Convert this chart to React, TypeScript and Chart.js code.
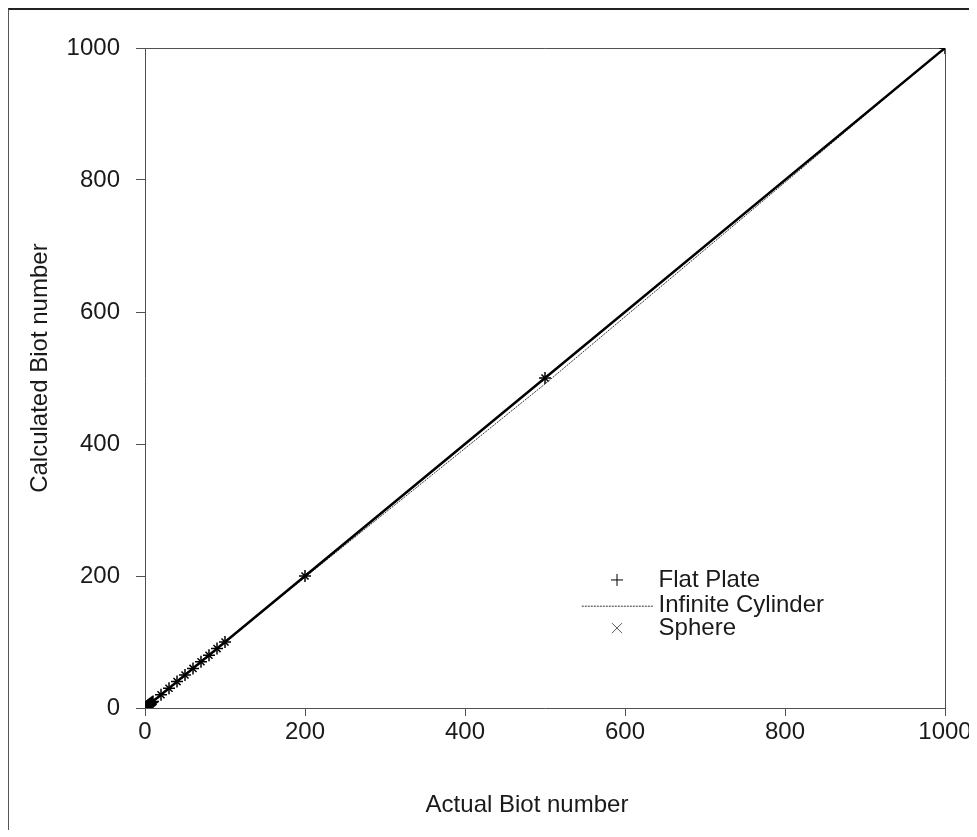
import React, { useEffect, useRef } from "react";
import { Chart, registerables } from "chart.js";

Chart.register(...registerables);

const actualBiot = [0.1, 0.5, 1, 2, 3, 4, 5, 6, 7, 8, 9, 10, 20, 30, 40, 50, 60, 70, 80, 90, 100, 200, 500, 1000];
const flatPlate = [0.1, 0.5, 1, 2, 3, 4, 5, 6, 7, 8, 9, 10, 20, 30, 40, 50, 60, 70, 80, 90, 100, 200, 500, 1000];
const infiniteCylinder = [0.1, 0.5, 1, 2, 3, 4, 5, 6, 7, 8, 9, 10, 20, 30, 40, 50, 60, 70, 80, 90, 99.5, 198, 491, 1000];
const sphere = [0.1, 0.5, 1, 2, 3, 4, 5, 6, 7, 8, 9, 10, 20, 30, 40, 50, 60, 70, 80, 90, 100, 200, 500, 1000];
const axisTicks = [0, 200, 400, 600, 800, 1000];
const legendLabels = ["Flat Plate", "Infinite Cylinder", "Sphere"];
const xTitle = "Actual Biot number";
const yTitle = "Calculated Biot number";

const FONT = "'Liberation Sans', Arial, sans-serif";
const AXIS_COLOR = "#505050";

const framePlugin = {
  id: "frameAndLegend",
  beforeDatasetsDraw(chart: any) {
    const { ctx, chartArea } = chart;
    ctx.save();
    ctx.strokeStyle = AXIS_COLOR;
    ctx.lineWidth = 1;
    ctx.beginPath();
    ctx.moveTo(chartArea.left, chartArea.top + 0.5);
    ctx.lineTo(chartArea.right + 0.5, chartArea.top + 0.5);
    ctx.lineTo(chartArea.right + 0.5, chartArea.bottom);
    ctx.stroke();
    ctx.restore();
  },
  afterDraw(chart: any) {
    const { ctx, chartArea } = chart;
    const w = chartArea.right - chartArea.left;
    const h = chartArea.bottom - chartArea.top;
    const X = (f: number) => chartArea.left + f * w;
    const Y = (f: number) => chartArea.top + f * h;
    const textX = X(0.642);
    const rows = [Y(0.806), Y(0.845), Y(0.879)];
    const symX = X(0.59);
    ctx.save();
    ctx.strokeStyle = "#000";
    ctx.lineWidth = 1;
    ctx.beginPath();
    ctx.moveTo(symX - 6, rows[0]);
    ctx.lineTo(symX + 6, rows[0]);
    ctx.moveTo(symX, rows[0] - 6);
    ctx.lineTo(symX, rows[0] + 6);
    ctx.stroke();
    ctx.strokeStyle = "#333";
    ctx.setLineDash([2, 1]);
    ctx.beginPath();
    ctx.moveTo(X(0.546), rows[1] + 0.5);
    ctx.lineTo(X(0.635), rows[1] + 0.5);
    ctx.stroke();
    ctx.setLineDash([]);
    ctx.strokeStyle = "#555";
    ctx.beginPath();
    ctx.moveTo(symX - 5, rows[2] - 5);
    ctx.lineTo(symX + 5, rows[2] + 5);
    ctx.moveTo(symX + 5, rows[2] - 5);
    ctx.lineTo(symX - 5, rows[2] + 5);
    ctx.stroke();
    ctx.fillStyle = "#1a1a1a";
    ctx.font = `24px ${FONT}`;
    ctx.textBaseline = "middle";
    ctx.textAlign = "left";
    legendLabels.forEach((t, i) => ctx.fillText(t, textX, rows[i]));
    // axis titles
    ctx.textAlign = "center";
    ctx.fillText(xTitle, X(0.4775), chart.height - 25);
    ctx.translate(31, Y(0.485));
    ctx.rotate(-Math.PI / 2);
    ctx.fillText(yTitle, 0, 0);
    ctx.restore();
  },
};

export default function App() {
  const ref = useRef<HTMLCanvasElement>(null);
  useEffect(() => {
    if (!ref.current) return;
    const pts = (ys: number[]) => actualBiot.map((x, i) => ({ x, y: ys[i] }));
    const chart = new Chart(ref.current, {
      type: "scatter",
      data: {
        datasets: [
          {
            label: legendLabels[0],
            data: pts(flatPlate),
            showLine: false,
            pointStyle: "cross",
            pointRadius: 6,
            borderWidth: 1.5,
            borderColor: "#000",
            backgroundColor: "#000",
          },
          {
            label: legendLabels[2],
            data: pts(sphere),
            showLine: false,
            pointStyle: "crossRot",
            pointRadius: 5,
            borderWidth: 1.5,
            borderColor: "#000",
            backgroundColor: "#000",
          },
          {
            label: "line",
            data: pts(flatPlate),
            showLine: true,
            pointRadius: 0,
            borderWidth: 2.5,
            borderColor: "#000",
          },
          {
            label: legendLabels[1],
            data: pts(infiniteCylinder),
            showLine: true,
            pointRadius: 0,
            borderWidth: 1,
            borderDash: [2, 1],
            borderColor: "#333",
          },
        ],
      },
      options: {
        responsive: false,
        animation: false,
        devicePixelRatio: 1,
        layout: { padding: { top: 38, right: 32, left: 0, bottom: 0 } },
        plugins: { legend: { display: false }, tooltip: { enabled: false } },
        scales: {
          x: {
            type: "linear",
            min: 0,
            max: 1000,
            afterBuildTicks: (s: any) => { s.ticks = axisTicks.map((v) => ({ value: v })); },
            afterFit: (s: any) => { s.height = 122; },
            grid: { drawOnChartArea: false, drawTicks: true, tickLength: 8, color: AXIS_COLOR },
            border: { color: AXIS_COLOR, width: 1 },
            ticks: { color: "#1a1a1a", font: { family: FONT, size: 24 }, padding: 2, maxRotation: 0, callback: (v: any) => String(v) },
            title: { display: false },
          },
          y: {
            type: "linear",
            min: 0,
            max: 1000,
            afterBuildTicks: (s: any) => { s.ticks = axisTicks.map((v) => ({ value: v })); },
            afterFit: (s: any) => { s.width = 136; },
            grid: { drawOnChartArea: false, drawTicks: true, tickLength: 9, color: AXIS_COLOR },
            border: { color: AXIS_COLOR, width: 1 },
            ticks: { color: "#1a1a1a", font: { family: FONT, size: 24 }, padding: 16, callback: (v: any) => String(v) },
            title: { display: false },
          },
        },
      },
      plugins: [framePlugin],
    } as any);
    return () => chart.destroy();
  }, []);
  return (
    <div style={{ borderTop: "2px solid #222", borderLeft: "1px solid #555", width: 968, height: 820 }}>
      <canvas ref={ref} width={968} height={820} style={{ display: "block" }} />
    </div>
  );
}
